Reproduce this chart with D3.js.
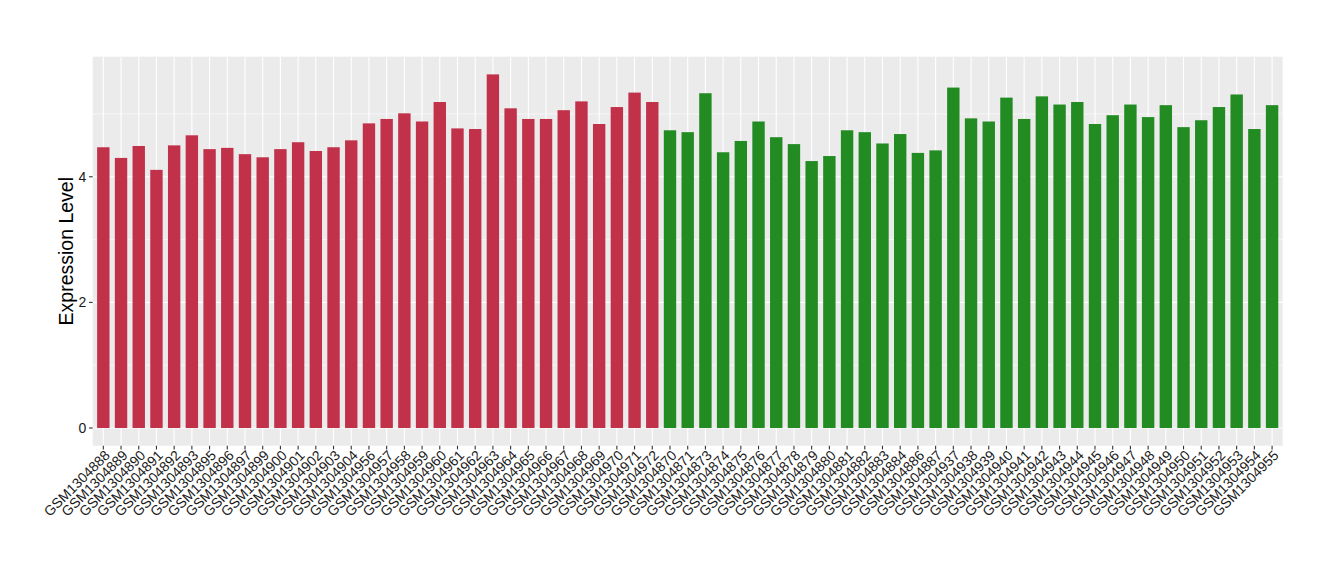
<!DOCTYPE html>
<html>
<head>
<meta charset="utf-8">
<script src="https://cdn.jsdelivr.net/npm/d3@7"></script>
<style>
body { margin: 0; background: #fff; }
svg text { font-family: "Liberation Sans", Arial, sans-serif; }
</style>
</head>
<body>
<svg id="chart" width="1340" height="580"></svg>
<script>
const samples = ["GSM1304888","GSM1304889","GSM1304890","GSM1304891","GSM1304892","GSM1304893","GSM1304895","GSM1304896","GSM1304897","GSM1304899","GSM1304900","GSM1304901","GSM1304902","GSM1304903","GSM1304904","GSM1304956","GSM1304957","GSM1304958","GSM1304959","GSM1304960","GSM1304961","GSM1304962","GSM1304963","GSM1304964","GSM1304965","GSM1304966","GSM1304967","GSM1304968","GSM1304969","GSM1304970","GSM1304971","GSM1304972",
"GSM1304870","GSM1304871","GSM1304873","GSM1304874","GSM1304875","GSM1304876","GSM1304877","GSM1304878","GSM1304879","GSM1304880","GSM1304881","GSM1304882","GSM1304883","GSM1304884","GSM1304886","GSM1304887","GSM1304937","GSM1304938","GSM1304939","GSM1304940","GSM1304941","GSM1304942","GSM1304943","GSM1304944","GSM1304945","GSM1304946","GSM1304947","GSM1304948","GSM1304949","GSM1304950","GSM1304951","GSM1304952","GSM1304953","GSM1304954","GSM1304955"];
const values = [4.47,4.30,4.49,4.11,4.50,4.66,4.44,4.46,4.36,4.31,4.44,4.55,4.41,4.47,4.58,4.85,4.92,5.01,4.88,5.19,4.77,4.76,5.63,5.09,4.92,4.92,5.06,5.20,4.84,5.11,5.34,5.19,
4.74,4.71,5.33,4.39,4.57,4.88,4.63,4.52,4.25,4.33,4.74,4.71,4.53,4.68,4.38,4.42,5.42,4.93,4.88,5.26,4.92,5.28,5.15,5.19,4.84,4.98,5.15,4.95,5.14,4.79,4.90,5.11,5.31,4.76,5.14];
const groups = Array(32).fill("A").concat(Array(35).fill("B"));
const groupColors = {A: "#C2314A", B: "#228B22"};
const yTicks = [0, 2, 4];
const yMinor = [1, 3, 5];

const svg = d3.select("#chart");
const panel = {left: 92.7, right: 1282.7, top: 56.7, bottom: 445.7};

const maxV = d3.max(values);
const y = d3.scaleLinear().domain([-0.05 * maxV, maxV * 1.05]).range([panel.bottom, panel.top]);
const n = samples.length;
const x = d3.scaleLinear().domain([0.4, n + 0.6]).range([panel.left, panel.right]);
const unit = x(2) - x(1);
const bw = unit * 0.7;

svg.append("rect").attr("x", panel.left).attr("y", panel.top)
  .attr("width", panel.right - panel.left).attr("height", panel.bottom - panel.top)
  .attr("fill", "#EBEBEB");

const g = svg.append("g");
g.selectAll(".ymin").data(yMinor).enter().append("line")
  .attr("x1", panel.left).attr("x2", panel.right)
  .attr("y1", d => y(d)).attr("y2", d => y(d))
  .attr("stroke", "#fff").attr("stroke-width", 0.55);
g.selectAll(".ymaj").data(yTicks).enter().append("line")
  .attr("x1", panel.left).attr("x2", panel.right)
  .attr("y1", d => y(d)).attr("y2", d => y(d))
  .attr("stroke", "#fff").attr("stroke-width", 1.1);
g.selectAll(".xmaj").data(samples).enter().append("line")
  .attr("x1", (d, i) => x(i + 1)).attr("x2", (d, i) => x(i + 1))
  .attr("y1", panel.top).attr("y2", panel.bottom)
  .attr("stroke", "#fff").attr("stroke-width", 1.1);

g.selectAll(".bar").data(values).enter().append("rect")
  .attr("x", (d, i) => x(i + 1) - bw / 2)
  .attr("width", bw)
  .attr("y", d => y(d))
  .attr("height", d => y(0) - y(d))
  .attr("fill", (d, i) => groupColors[groups[i]]);

// y axis ticks & labels
const ya = svg.append("g");
ya.selectAll("line").data(yTicks).enter().append("line")
  .attr("x1", panel.left - 3.7).attr("x2", panel.left)
  .attr("y1", d => y(d)).attr("y2", d => y(d))
  .attr("stroke", "#333").attr("stroke-width", 1.1);
ya.selectAll("text").data(yTicks).enter().append("text")
  .attr("x", panel.left - 6.5).attr("y", d => y(d))
  .attr("dy", "0.36em").attr("text-anchor", "end")
  .attr("font-size", 14).attr("fill", "#1a1a1a")
  .text(d => d);

// x axis ticks & labels
const xa = svg.append("g");
xa.selectAll("line").data(samples).enter().append("line")
  .attr("x1", (d, i) => x(i + 1)).attr("x2", (d, i) => x(i + 1))
  .attr("y1", panel.bottom).attr("y2", panel.bottom + 3.7)
  .attr("stroke", "#333").attr("stroke-width", 1.1);
xa.selectAll("text").data(samples).enter().append("text")
  .attr("transform", (d, i) => `translate(${x(i + 1)},${panel.bottom + 3})rotate(-45)`)
  .attr("dy", "0.75em").attr("text-anchor", "end")
  .attr("font-size", 14).attr("fill", "#1a1a1a")
  .text(d => d);

svg.append("text")
  .attr("transform", `translate(73,${(panel.top + panel.bottom) / 2})rotate(-90)`)
  .attr("text-anchor", "middle").attr("font-size", 19.5).attr("fill", "#000")
  .text("Expression Level");
</script>
</body>
</html>
